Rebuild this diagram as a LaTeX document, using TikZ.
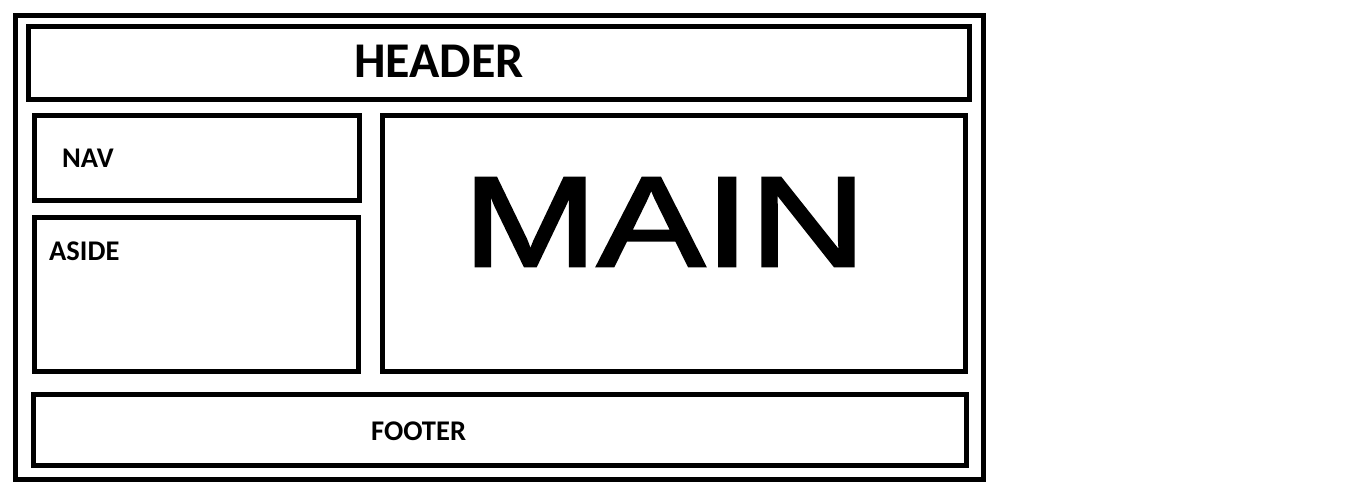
\documentclass[tikz,border=0pt]{standalone}
\usepackage{fontspec}
\usepackage{graphicx}
\setmainfont{Carlito}
\newfontfamily\mainfont[FakeBold=2]{Liberation Sans}

\begin{document}
\begin{tikzpicture}[
  x=1pt, y=-1pt,
  box/.style = {draw, line width=5pt},
  label/.style = {inner sep=0pt, font=\bfseries\fontsize{28.5}{30}\selectfont}
  ]
  \useasboundingbox (0,0) rectangle (1360,495);
  % page frame and blocks
  \draw[box] (15.5,15.5) rectangle (983,479);
  \draw[box] (28,27) rectangle (969,99);
  \draw[box] (34.5,115.5) rectangle (359.5,200.5);
  \draw[box] (34.5,217.5) rectangle (358.5,371.5);
  \draw[box] (382.5,115.5) rectangle (965.5,371.5);
  \draw[box] (33.5,394.5) rectangle (966.5,465.5);
  % block names
  \node[label, font=\bfseries\fontsize{50}{60}\selectfont] (header) at (439,61) {HEADER};
  \node[label, anchor=west] (nav) at (62,158) {NAV};
  \node[label, anchor=west] (aside) at (49,251) {ASIDE};
  \node[label, anchor=west] (footer) at (371,431) {FOOTER};
  \node[inner sep=0pt] (main) at (664.5,222)
    {\scalebox{1.26}[1]{\mainfont\fontsize{128}{130}\selectfont MAIN}};
\end{tikzpicture}
\end{document}
